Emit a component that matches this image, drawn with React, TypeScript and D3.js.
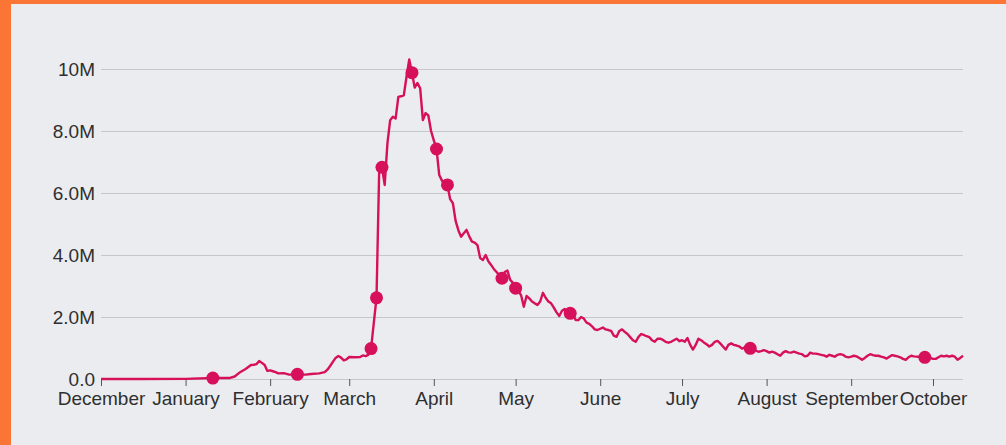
import React, { useRef, useEffect } from 'react';
import * as d3 from 'd3';

// Daily values (millions)
const dates: string[] = [
  '2019-12-01', '2019-12-15', '2020-01-01', '2020-01-11', '2020-01-17', '2020-01-19', '2020-01-21',
  '2020-01-23', '2020-01-25', '2020-01-26', '2020-01-27', '2020-01-28', '2020-01-29', '2020-01-30',
  '2020-01-31', '2020-02-01', '2020-02-02', '2020-02-03', '2020-02-04', '2020-02-06', '2020-02-08',
  '2020-02-11', '2020-02-14', '2020-02-16', '2020-02-19', '2020-02-21', '2020-02-22', '2020-02-23',
  '2020-02-24', '2020-02-25', '2020-02-26', '2020-02-27', '2020-02-28', '2020-02-29',
  '2020-03-01', '2020-03-03', '2020-03-05', '2020-03-06', '2020-03-07', '2020-03-08', '2020-03-09',
  '2020-03-10', '2020-03-11', '2020-03-12', '2020-03-13', '2020-03-14', '2020-03-15', '2020-03-16',
  '2020-03-17', '2020-03-18', '2020-03-19', '2020-03-20', '2020-03-21', '2020-03-22', '2020-03-23',
  '2020-03-24', '2020-03-25', '2020-03-26', '2020-03-27', '2020-03-28', '2020-03-29', '2020-03-30',
  '2020-03-31',
  '2020-04-01', '2020-04-02', '2020-04-03', '2020-04-04', '2020-04-05', '2020-04-06', '2020-04-07',
  '2020-04-08', '2020-04-09', '2020-04-10', '2020-04-11', '2020-04-12', '2020-04-13', '2020-04-14',
  '2020-04-15', '2020-04-16', '2020-04-17', '2020-04-18', '2020-04-19', '2020-04-20', '2020-04-21',
  '2020-04-22', '2020-04-23', '2020-04-24', '2020-04-25', '2020-04-26', '2020-04-27', '2020-04-28',
  '2020-04-29', '2020-04-30',
  '2020-05-01', '2020-05-02', '2020-05-03', '2020-05-04', '2020-05-05', '2020-05-06', '2020-05-07',
  '2020-05-08', '2020-05-09', '2020-05-10', '2020-05-11', '2020-05-12', '2020-05-13', '2020-05-14',
  '2020-05-15', '2020-05-16', '2020-05-17', '2020-05-18', '2020-05-19', '2020-05-20', '2020-05-21',
  '2020-05-22', '2020-05-23', '2020-05-24', '2020-05-25', '2020-05-26', '2020-05-27', '2020-05-28',
  '2020-05-29', '2020-05-30', '2020-05-31',
  '2020-06-01', '2020-06-02', '2020-06-03', '2020-06-04', '2020-06-05', '2020-06-06', '2020-06-07',
  '2020-06-08', '2020-06-09', '2020-06-10', '2020-06-11', '2020-06-12', '2020-06-13', '2020-06-14',
  '2020-06-15', '2020-06-16', '2020-06-17', '2020-06-18', '2020-06-19', '2020-06-20', '2020-06-21',
  '2020-06-22', '2020-06-23', '2020-06-24', '2020-06-25', '2020-06-26', '2020-06-27', '2020-06-28',
  '2020-06-29', '2020-06-30',
  '2020-07-01', '2020-07-02', '2020-07-03', '2020-07-04', '2020-07-05', '2020-07-06', '2020-07-07',
  '2020-07-08', '2020-07-09', '2020-07-10', '2020-07-11', '2020-07-12', '2020-07-13', '2020-07-14',
  '2020-07-15', '2020-07-16', '2020-07-17', '2020-07-18', '2020-07-19', '2020-07-20', '2020-07-21',
  '2020-07-22', '2020-07-23', '2020-07-24', '2020-07-25', '2020-07-26', '2020-07-27', '2020-07-28',
  '2020-07-29', '2020-07-30', '2020-07-31',
  '2020-08-01', '2020-08-02', '2020-08-03', '2020-08-04', '2020-08-05', '2020-08-06', '2020-08-07',
  '2020-08-08', '2020-08-09', '2020-08-10', '2020-08-11', '2020-08-12', '2020-08-13', '2020-08-14',
  '2020-08-15', '2020-08-16', '2020-08-17', '2020-08-18', '2020-08-19', '2020-08-20', '2020-08-21',
  '2020-08-22', '2020-08-23', '2020-08-24', '2020-08-25', '2020-08-26', '2020-08-27', '2020-08-28',
  '2020-08-29', '2020-08-30', '2020-08-31',
  '2020-09-01', '2020-09-02', '2020-09-03', '2020-09-04', '2020-09-05', '2020-09-06', '2020-09-07',
  '2020-09-08', '2020-09-09', '2020-09-10', '2020-09-11', '2020-09-12', '2020-09-13', '2020-09-14',
  '2020-09-15', '2020-09-16', '2020-09-17', '2020-09-18', '2020-09-19', '2020-09-20', '2020-09-21',
  '2020-09-22', '2020-09-23', '2020-09-24', '2020-09-25', '2020-09-26', '2020-09-27', '2020-09-28',
  '2020-09-29', '2020-09-30',
  '2020-10-01', '2020-10-02', '2020-10-03', '2020-10-04', '2020-10-05', '2020-10-06', '2020-10-07',
  '2020-10-08', '2020-10-09', '2020-10-10', '2020-10-11', '2020-10-12',
];

const values: number[] = [
  // Dec - Feb
  0, 0.002, 0.005, 0.03, 0.03, 0.08, 0.22,
  0.32, 0.45, 0.46, 0.48, 0.58, 0.52, 0.45,
  0.26, 0.28, 0.25, 0.22, 0.18, 0.19, 0.14,
  0.15, 0.14, 0.16, 0.18, 0.22, 0.3, 0.42,
  0.55, 0.68, 0.74, 0.69, 0.6, 0.63,
  // March
  0.71, 0.7, 0.71, 0.76, 0.74, 0.78, 0.98,
  1.8, 2.62, 6.8, 6.83, 6.26, 7.6, 8.35,
  8.46, 8.4, 9.1, 9.12, 9.15, 9.75, 10.31,
  9.88, 9.4, 9.55, 9.38, 8.35, 8.58, 8.5,
  8.0,
  // April
  7.7, 7.42, 6.58, 6.4, 6.3, 6.26, 5.8,
  5.67, 5.1, 4.8, 4.59, 4.7, 4.81, 4.6,
  4.43, 4.4, 4.32, 3.9, 3.84, 4.0, 3.8,
  3.68, 3.55, 3.45, 3.35, 3.25, 3.45, 3.5,
  3.2, 3.1,
  // May
  2.93, 2.85, 2.7, 2.33, 2.68, 2.6, 2.5,
  2.44, 2.39, 2.5, 2.78, 2.62, 2.5, 2.44,
  2.3, 2.15, 2.03, 2.2, 2.26, 2.15, 2.12,
  2.1, 1.9, 1.9, 2.0, 1.95, 1.82, 1.78,
  1.7, 1.6, 1.58,
  // June
  1.62, 1.66, 1.6, 1.58, 1.55, 1.4, 1.36,
  1.55, 1.6, 1.52, 1.45, 1.35, 1.25, 1.2,
  1.35, 1.45, 1.42, 1.38, 1.35, 1.25, 1.2,
  1.3, 1.3, 1.26, 1.2, 1.17, 1.2, 1.25,
  1.3, 1.22,
  // July
  1.25, 1.2, 1.32, 1.1, 0.95, 1.1, 1.3,
  1.25, 1.18, 1.12, 1.05, 1.1, 1.2, 1.23,
  1.15, 1.05, 0.95, 1.1, 1.15, 1.1, 1.08,
  1.05, 0.98, 1.02, 1.0, 0.99, 0.95, 0.92,
  0.88, 0.9, 0.93,
  // August
  0.9, 0.85, 0.88, 0.85, 0.8, 0.75, 0.85,
  0.9, 0.86, 0.85, 0.88, 0.85, 0.82, 0.8,
  0.73, 0.75, 0.85, 0.82, 0.82, 0.8, 0.78,
  0.76, 0.72, 0.78, 0.75, 0.72, 0.78, 0.8,
  0.78, 0.72, 0.7,
  // September
  0.72, 0.75, 0.73, 0.68, 0.62, 0.68, 0.75,
  0.8, 0.77, 0.75, 0.75, 0.72, 0.7, 0.66,
  0.72, 0.77, 0.75, 0.73, 0.7, 0.65, 0.62,
  0.7, 0.75, 0.73, 0.72, 0.72, 0.7, 0.7,
  0.72, 0.68,
  // October
  0.65, 0.65, 0.7, 0.75, 0.73, 0.75, 0.72,
  0.75, 0.72, 0.62, 0.68, 0.75,
];

// Highlighted days (dots on the line)
const markerDates: string[] = [
  '2020-01-11', '2020-02-11', '2020-03-09', '2020-03-11', '2020-03-13', '2020-03-24', '2020-04-02',
  '2020-04-06', '2020-04-26', '2020-05-01', '2020-05-21', '2020-07-26', '2020-09-28',
];

const monthTicks: string[] = [
  '2019-12-01', '2020-01-01', '2020-02-01', '2020-03-01', '2020-04-01', '2020-05-01',
  '2020-06-01', '2020-07-01', '2020-08-01', '2020-09-01', '2020-10-01',
];
const monthLabels: string[] = [
  'December', 'January', 'February', 'March', 'April', 'May',
  'June', 'July', 'August', 'September', 'October',
];

const yTicks: number[] = [0, 2e6, 4e6, 6e6, 8e6, 10e6];

const App = () => {
  const chartRef = useRef<HTMLDivElement>(null);

  useEffect(() => {
    const width = 1006;
    const height = 445;
    const margin = { top: 69, right: 43, bottom: 66, left: 101 };
    const lineColor = '#d6105a';
    const font = '"Liberation Sans", Arial, sans-serif';

    const parse = d3.utcParse('%Y-%m-%d');
    const data = dates.map((d, i) => ({ date: parse(d) as Date, value: values[i] * 1e6 }));

    d3.select(chartRef.current).select('svg').remove();

    const svg = d3.select(chartRef.current)
      .append('svg')
      .attr('width', width)
      .attr('height', height)
      .style('display', 'block');

    // background + orange frame
    svg.append('rect').attr('width', width).attr('height', height).attr('fill', '#ebecf0');
    svg.append('rect').attr('width', 11).attr('height', height).attr('fill', '#fb7634');
    svg.append('rect').attr('width', width).attr('height', 4).attr('fill', '#fb7634');

    const x = d3.scaleUtc()
      .domain([parse('2019-12-01') as Date, parse('2020-10-12') as Date])
      .range([margin.left, width - margin.right]);

    const y = d3.scaleLinear()
      .domain([0, 10e6])
      .range([height - margin.bottom, margin.top]);

    // gridlines + y labels
    const yAxis = svg.append('g')
      .attr('transform', `translate(${margin.left},0)`)
      .call(d3.axisLeft(y)
        .tickValues(yTicks)
        .tickFormat(d3.format('.2s') as any)
        .tickSize(-(width - margin.left - margin.right))
        .tickPadding(6));
    yAxis.select('.domain').remove();
    yAxis.selectAll('.tick line').attr('stroke', '#c6c7cb').attr('stroke-width', 1);
    yAxis.selectAll('.tick text')
      .attr('fill', '#2f2f2f')
      .style('font-family', font)
      .style('font-size', '19px');

    // x axis
    const xAxis = svg.append('g')
      .attr('transform', `translate(0,${height - margin.bottom})`)
      .call(d3.axisBottom(x)
        .tickValues(monthTicks.map(d => parse(d) as Date))
        .tickFormat((_d, i) => monthLabels[i])
        .tickSize(7)
        .tickPadding(6));
    xAxis.select('.domain').remove();
    xAxis.selectAll('.tick line').attr('stroke', '#555');
    xAxis.selectAll('.tick text')
      .attr('fill', '#2f2f2f')
      .style('font-family', font)
      .style('font-size', '19px');

    // line
    const line = d3.line<{ date: Date; value: number }>()
      .x(d => x(d.date))
      .y(d => y(d.value));

    svg.append('path')
      .datum(data)
      .attr('fill', 'none')
      .attr('stroke', lineColor)
      .attr('stroke-width', 2.4)
      .attr('stroke-linejoin', 'round')
      .attr('d', line);

    // markers
    const markers = markerDates
      .map(md => data.find(d => +d.date === +(parse(md) as Date)))
      .filter(Boolean) as { date: Date; value: number }[];

    svg.selectAll('.marker')
      .data(markers)
      .enter().append('circle')
      .attr('class', 'marker')
      .attr('cx', d => x(d.date))
      .attr('cy', d => y(d.value))
      .attr('r', 6.5)
      .attr('fill', lineColor);
  }, []);

  return <div ref={chartRef} style={{ position: 'absolute', left: 0, top: 0 }}></div>;
};

export default App;
